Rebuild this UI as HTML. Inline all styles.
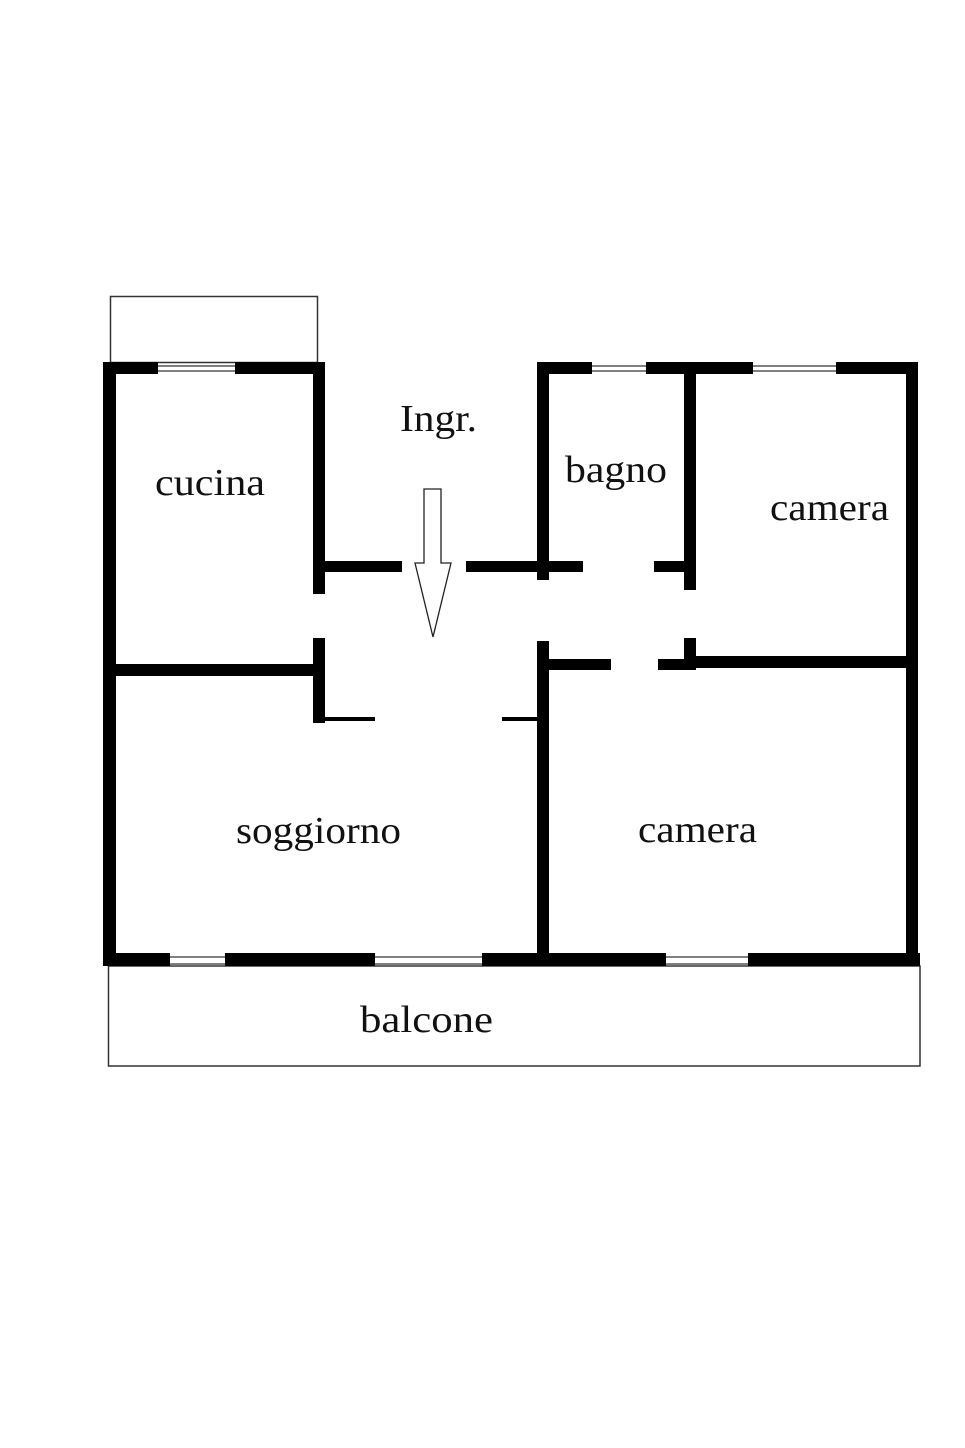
<!DOCTYPE html>
<html><head><meta charset="utf-8"><style>html,body{margin:0;padding:0;background:#fff}svg{display:block}text{font-family:"Liberation Serif",serif;fill:#111}</style></head>
<body>
<svg width="965" height="1448" viewBox="0 0 965 1448" xmlns="http://www.w3.org/2000/svg">
<rect width="965" height="1448" fill="#fff"/>
<!-- balconies -->
<rect x="110.5" y="296.5" width="207" height="66" fill="none" stroke="#333" stroke-width="1.5"/>
<rect x="108.5" y="966" width="811.5" height="100" fill="none" stroke="#333" stroke-width="1.5"/>
<!-- windows -->
<g stroke="#333" stroke-width="1.2">
<line x1="158" y1="366" x2="235" y2="366"/><line x1="158" y1="371" x2="235" y2="371"/>
<line x1="592" y1="366" x2="646" y2="366"/><line x1="592" y1="371" x2="646" y2="371"/>
<line x1="753" y1="366" x2="836" y2="366"/><line x1="753" y1="371" x2="836" y2="371"/>
<line x1="170" y1="957" x2="225" y2="957"/><line x1="170" y1="964" x2="225" y2="964"/>
<line x1="375" y1="957" x2="482" y2="957"/><line x1="375" y1="964" x2="482" y2="964"/>
<line x1="666" y1="957" x2="748" y2="957"/><line x1="666" y1="964" x2="748" y2="964"/>
</g>
<g fill="#000">
<!-- outer -->
<rect x="103" y="362" width="13" height="604"/>
<rect x="103" y="362" width="55" height="12"/>
<rect x="235" y="362" width="90" height="12"/>
<rect x="313" y="362" width="12" height="232"/>
<rect x="325" y="561" width="77" height="11"/>
<rect x="466" y="561" width="82" height="11"/>
<rect x="537" y="362" width="12" height="218"/>
<rect x="537" y="362" width="55" height="12"/>
<rect x="646" y="362" width="107" height="12"/>
<rect x="836" y="362" width="82" height="12"/>
<rect x="906" y="362" width="12" height="604"/>
<rect x="684" y="362" width="12" height="228"/>
<rect x="549" y="561" width="34" height="11"/>
<rect x="654" y="561" width="36" height="11"/>
<!-- lower -->
<rect x="116" y="664" width="197" height="12"/>
<rect x="313" y="638" width="12" height="85"/>
<rect x="325" y="717" width="50" height="4"/>
<rect x="502" y="717" width="35" height="4"/>
<rect x="537" y="641" width="12" height="325"/>
<rect x="549" y="659" width="62" height="11"/>
<rect x="658" y="659" width="32" height="11"/>
<rect x="684" y="638" width="12" height="32"/>
<rect x="696" y="656" width="210" height="12"/>
<!-- bottom -->
<rect x="103" y="953" width="67" height="13"/>
<rect x="225" y="953" width="150" height="13"/>
<rect x="482" y="953" width="184" height="13"/>
<rect x="748" y="953" width="172" height="13"/>
</g>
<!-- arrow -->
<polygon points="424,489 441,489 441,563 451,563 433,637 415,563 424,563" fill="#fff" stroke="#222" stroke-width="1.3"/>
<!-- labels -->
<text x="400" y="431" font-size="38" textLength="77" lengthAdjust="spacingAndGlyphs">Ingr.</text>
<text x="155" y="495" font-size="38" textLength="110" lengthAdjust="spacingAndGlyphs">cucina</text>
<text x="565" y="482" font-size="38" textLength="102" lengthAdjust="spacingAndGlyphs">bagno</text>
<text x="770" y="520" font-size="38" textLength="119" lengthAdjust="spacingAndGlyphs">camera</text>
<text x="236" y="843" font-size="38" textLength="165" lengthAdjust="spacingAndGlyphs">soggiorno</text>
<text x="638" y="842" font-size="38" textLength="119" lengthAdjust="spacingAndGlyphs">camera</text>
<text x="360" y="1032" font-size="38" textLength="133" lengthAdjust="spacingAndGlyphs">balcone</text>
</svg>
</body></html>
